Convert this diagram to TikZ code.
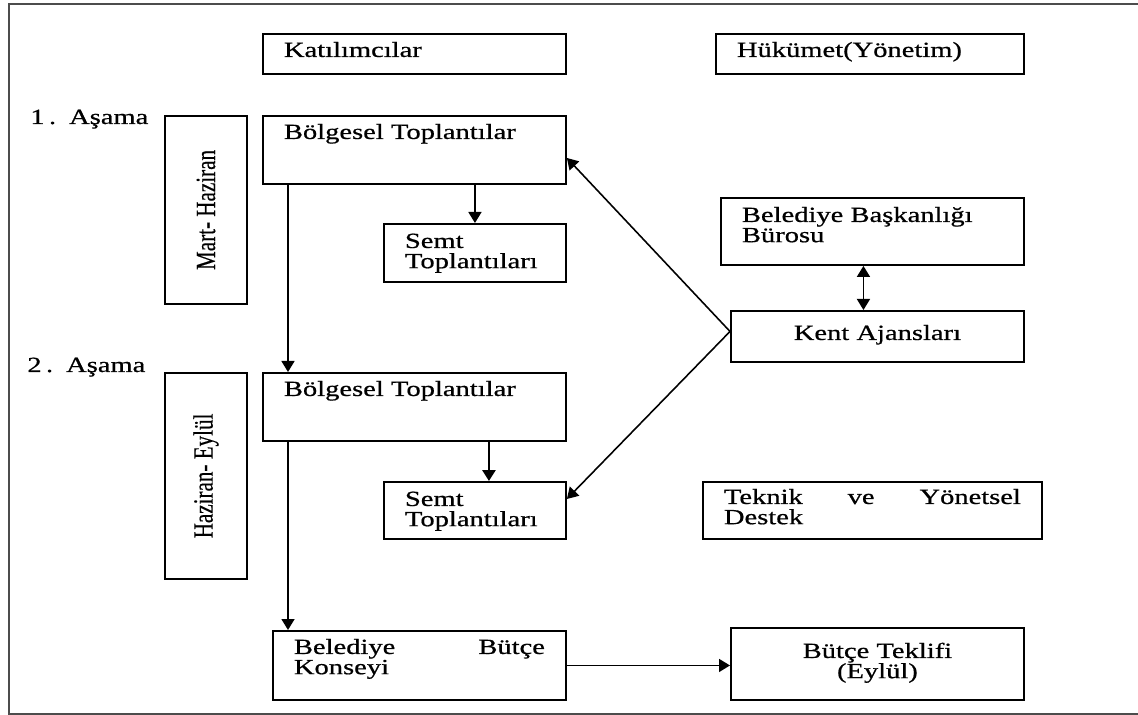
\documentclass[tikz,border=0pt]{standalone}
\usepackage{fontspec}
\setmainfont{Liberation Serif}[FakeStretch=1.32, FakeBold=0.7]
\newfontfamily\upfont{Liberation Serif}[FakeBold=0.5]
\usetikzlibrary{arrows.meta}

\tikzset{
  stage/.style={draw, line width=1.1pt, anchor=north west, inner xsep=0.42cm,
                inner ysep=0pt, align=left, text height=0.46cm},
  period/.style={draw, line width=1.1pt, anchor=north west, inner sep=0pt,
                 minimum width=1.64cm, font=\upfont\fontsize{12}{12}\selectfont},
  phase/.style={anchor=base west, inner sep=0pt}
}

\begin{document}
\begin{tikzpicture}[x=0.02cm, y=-0.02cm]
\useasboundingbox (0,0) rectangle (1138,715);
\draw [black!70, line width=1.2pt] (1138,4) -- (9,4) -- (9,714) -- (1138,714);
\begin{scope}[every node/.style={font=\fontsize{12.3}{11.5}\selectfont}]
    \node[stage, text width=5.22cm, text depth=0.34cm] (kat) at (262,33) {Katılımcılar};
    \node[stage, text width=5.32cm, text depth=0.34cm] (huk) at (715,33) {Hükümet(Yönetim)};
    \node[phase] (asama1) at (30,124) {1\kern2.5pt. \kern2pt Aşama};
    \node[phase] (asama2) at (27,372) {2\kern2.5pt. \kern2pt Aşama};
    \node[stage, text width=5.22cm, text depth=0.90cm] (bolg1) at (262,115) {Bölgesel Toplantılar};
    \node[stage, text width=2.80cm, text height=0.48cm, text depth=0.68cm] (semt1) at (383,223) {Semt\\Toplantıları};
    \node[stage, text width=5.22cm, text height=0.48cm, text depth=0.86cm] (bbb) at (720,197) {Belediye Başkanlığı\\Bürosu};
    \node[stage, text width=5.02cm, text height=0.58cm, text depth=0.44cm, align=center] (kent) at (730,310) {Kent Ajansları};
    \node[stage, text width=5.22cm, text depth=0.90cm] (bolg2) at (262,372) {Bölgesel Toplantılar};
    \node[stage, text width=2.80cm, text height=0.48cm, text depth=0.66cm] (semt2) at (383,481) {Semt\\Toplantıları};
    \node[stage, text width=5.94cm, text height=0.44cm, text depth=0.70cm] (tek) at (702,481) {Teknik \hfill ve \hfill Yönetsel\\Destek};
    \node[stage, text width=5.02cm, text depth=0.92cm] (bbk) at (272,630) {Belediye \hfill Bütçe\\Konseyi};
    \node[stage, text width=5.02cm, text height=0.60cm, text depth=0.84cm, align=center] (teklif) at (730,627) {Bütçe Teklifi\\(Eylül)};
    \node[period, minimum height=3.76cm] (mart) at (164,115) {\rotatebox{90}{\scalebox{1}[1.32]{Mart- Haziran}}};
    \node[period, minimum height=4.12cm] (hzr) at (164,372) {\rotatebox{90}{\scalebox{1}[1.32]{Haziran- Eylül}}};
\end{scope}
\begin{scope}[>={Triangle[length=0.22cm, width=0.26cm]},
              every edge/.style={draw, line width=0.9pt}]
    \path [->] (semt1.north |- bolg1.south) edge (semt1.north);
    \path [->] ([xshift=0.52cm]bolg1.south west) edge ([xshift=0.52cm]bolg1.south west |- bolg2.north);
    \path [->] ([xshift=0.28cm]semt2.north |- bolg2.south) edge[line width=1.6pt] ([xshift=0.28cm]semt2.north);
    \path [->] ([xshift=0.52cm]bolg2.south west) edge ([xshift=0.52cm]bolg2.south west |- bbk.north);
    \path [->] ([yshift=0.1cm]kent.west) edge ([yshift=-0.16cm]bolg1.east);
    \path [->] ([yshift=0.1cm]kent.west) edge ([yshift=0.23cm]semt2.east);
    \path [<->] ([xshift=-0.28cm]kent.north) edge ([xshift=-0.28cm]kent.north |- bbb.south);
    \path [->] (bbk.east) edge (bbk.east -| teklif.west);
\end{scope}
\end{tikzpicture}
\end{document}
